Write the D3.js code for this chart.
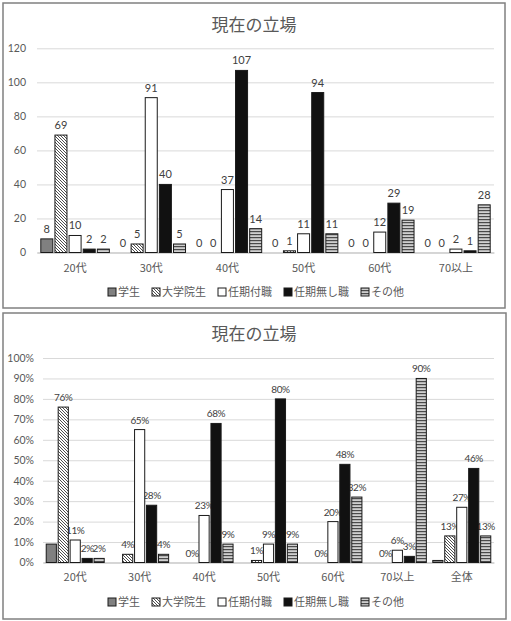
<!DOCTYPE html>
<html>
<head>
<meta charset="utf-8">
<script src="https://cdn.jsdelivr.net/npm/d3@7"></script>
<style>
  body { margin: 0; background: #fff; }
  svg { display: block; }
  text { font-family: Lato, "Noto Sans CJK JP", sans-serif; fill: #404040; }
  .jp { font-family: "Noto Sans CJK JP", sans-serif; }
</style>
</head>
<body>
<svg id="chart" width="511" height="621"></svg>
<script>
// categories
const ageGroups = ["20代", "30代", "40代", "50代", "60代", "70以上"];
const ageGroupsAll = ["20代", "30代", "40代", "50代", "60代", "70以上", "全体"];
const seriesNames = ["学生", "大学院生", "任期付職", "任期無し職", "その他"];

// counts (upper chart)
const cntGakusei   = [8, 0, 0, 0, 0, 0];
const cntInsei     = [69, 5, 0, 1, 0, 0];
const cntFixedTerm = [10, 91, 37, 11, 12, 2];
const cntTenured   = [2, 40, 107, 94, 29, 1];
const cntOther     = [2, 5, 14, 11, 19, 28];
const cntTicks = [0, 20, 40, 60, 80, 100, 120];

// percentages (lower chart)
const pctGakusei   = [9, 0, 0, 0, 0, 0, 1];
const pctInsei     = [76, 4, 0, 1, 0, 0, 13];
const pctFixedTerm = [11, 65, 23, 9, 20, 6, 27];
const pctTenured   = [2, 28, 68, 80, 48, 3, 46];
const pctOther     = [2, 4, 9, 9, 32, 90, 13];
const pctTicks = [0, 10, 20, 30, 40, 50, 60, 70, 80, 90, 100];

const svg = d3.select("#chart");

// patterns
const defs = svg.append("defs");
const hatch = defs.append("pattern").attr("id", "hatch")
  .attr("patternUnits", "userSpaceOnUse").attr("width", 3).attr("height", 3);
hatch.append("rect").attr("width", 3).attr("height", 3).attr("fill", "#fff");
hatch.append("path").attr("d", "M0,0L3,3M-1,2L1,4M2,-1L4,1")
  .attr("stroke", "#3a3a3a").attr("stroke-width", 0.9);
const stripe = defs.append("pattern").attr("id", "stripe")
  .attr("patternUnits", "userSpaceOnUse").attr("width", 4).attr("height", 3);
stripe.append("rect").attr("width", 4).attr("height", 3).attr("fill", "#cfcfcf");
stripe.append("rect").attr("width", 4).attr("height", 1.2).attr("fill", "#4a4a4a");

const fills = ["#808080", "url(#hatch)", "#fff", "#111", "url(#stripe)"];

function drawChart(o) {
  const g = svg.append("g");
  g.append("rect").attr("x", o.box[0]).attr("y", o.box[1])
    .attr("width", o.box[2]).attr("height", o.box[3])
    .attr("fill", "#fff").attr("stroke", "#808080").attr("stroke-width", 1.5);

  g.append("text").attr("class", "jp")
    .attr("x", 254).attr("y", o.titleY)
    .attr("text-anchor", "middle").attr("font-size", 17).style("fill", "#595959")
    .text("現在の立場");

  const x0 = d3.scaleBand().domain(o.cats).range([o.left, 494]);
  const x1 = d3.scaleBand().domain(seriesNames)
    .range([x0.bandwidth() * 0.05, x0.bandwidth() * 0.95]).paddingInner(0.15);
  const y = d3.scaleLinear().domain([0, o.max]).range([o.bottom, o.top]);

  const yAxis = g.append("g").attr("transform", `translate(${o.left},0)`)
    .call(d3.axisLeft(y).tickValues(o.ticks).tickSize(-(494 - o.left))
      .tickFormat(o.tickFmt));
  yAxis.select(".domain").remove();
  yAxis.selectAll("line").attr("stroke", "#d9d9d9");
  yAxis.selectAll("text").attr("x", -(o.left - o.tickRight))
    .attr("font-size", 10.5).style("fill", "#595959");

  const xAxis = g.append("g").attr("transform", `translate(0,${o.bottom})`)
    .call(d3.axisBottom(x0).tickSize(0));
  xAxis.select(".domain").attr("stroke", "#bfbfbf");
  xAxis.selectAll("text").attr("class", "jp").attr("dy", 0).attr("y", o.catY - o.bottom)
    .attr("font-size", 11).style("fill", "#595959");

  const rows = o.series.map((vals, si) => vals.map((v, ci) => ({
    s: seriesNames[si], si: si, c: o.cats[ci], v: v
  })));

  // labels first so following bars may cover them, like in the original
  rows.forEach((row, si) => {
    if (o.hideLabel.includes(si)) return;
    g.append("g").selectAll("text").data(row).join("text")
      .attr("x", d => x0(d.c) + x1(d.s) + x1.bandwidth() / 2)
      .attr("y", d => y(d.v) - 6)
      .attr("text-anchor", "middle")
      .attr("font-size", o.labelSize)
      .attr("letter-spacing", o.labelSpacing)
      .style("fill", "#404040")
      .text(d => o.labelFmt(d.v));
  });

  rows.forEach((row, si) => {
    g.append("g").selectAll("rect").data(row).join("rect")
      .attr("x", d => x0(d.c) + x1(d.s))
      .attr("y", d => y(d.v))
      .attr("width", x1.bandwidth())
      .attr("height", d => o.bottom - y(d.v))
      .attr("fill", fills[si])
      .attr("stroke", "#1a1a1a").attr("stroke-width", 1)
      .attr("visibility", d => d.v === 0 ? "hidden" : "visible");
  });

  // legend
  const leg = g.append("g");
  let lx = 0;
  seriesNames.forEach((name, si) => {
    const item = leg.append("g").attr("transform", `translate(${lx},0)`);
    item.append("rect").attr("x", 0).attr("y", -8).attr("width", 8).attr("height", 8)
      .attr("fill", fills[si]).attr("stroke", "#1a1a1a").attr("stroke-width", 1);
    const t = item.append("text").attr("class", "jp").attr("x", 10).attr("y", 0)
      .attr("font-size", 11).style("fill", "#595959").text(name);
    lx += 10 + t.node().getComputedTextLength() + 12;
  });
  const legW = lx - 12;
  leg.attr("transform", `translate(${256 - legW / 2},${o.legY})`);
}

drawChart({
  box: [3, 3, 502, 305], titleY: 31,
  cats: ageGroups,
  series: [cntGakusei, cntInsei, cntFixedTerm, cntTenured, cntOther],
  max: 120, ticks: cntTicks, tickFmt: d => d,
  left: 37, tickRight: 26, top: 48.3, bottom: 252.5,
  catY: 272, legY: 296,
  labelFmt: d => d, labelSize: 11, labelSpacing: 0, hideLabel: []
});

drawChart({
  box: [3, 313, 503, 306], titleY: 340,
  cats: ageGroupsAll,
  series: [pctGakusei, pctInsei, pctFixedTerm, pctTenured, pctOther],
  max: 100, ticks: pctTicks, tickFmt: d => d + "%",
  left: 43, tickRight: 34, top: 358, bottom: 562.5,
  catY: 581, legY: 606,
  labelFmt: d => d + "%", labelSize: 10, labelSpacing: -0.4, hideLabel: [0]
});
</script>
</body>
</html>
